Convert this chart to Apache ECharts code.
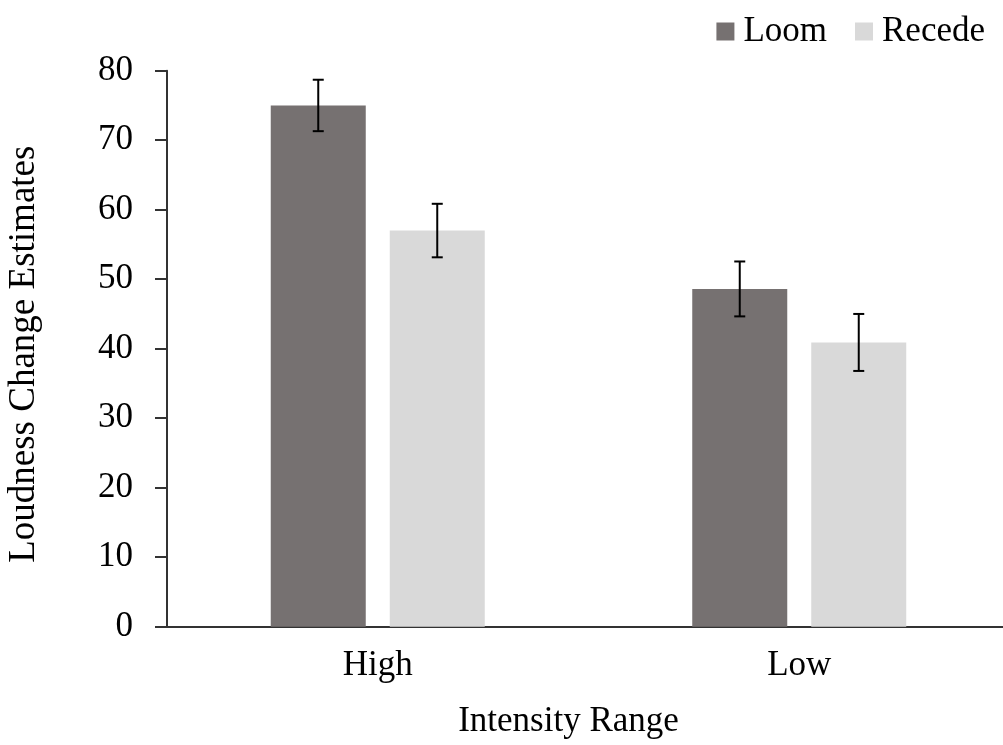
<!DOCTYPE html>
<html>
<head>
<meta charset="utf-8">
<script src="https://cdn.jsdelivr.net/npm/echarts@6/dist/echarts.min.js"></script>
<style>
  html, body { margin: 0; padding: 0; background: #fff; }
  #chart { width: 1003px; height: 745px; }
</style>
</head>
<body>
<div id="chart"></div>
<script>
// data
var categories = ['High', 'Low'];
var loomValues = [75, 48.6];
var recedeValues = [57, 40.9];
var loomErrors = [3.7, 3.95];
var recedeErrors = [3.85, 4.1];
var yTicks = [0, 10, 20, 30, 40, 50, 60, 70, 80];

var FONT = '"Liberation Serif", "Times New Roman", serif';
var BAR_W = 95;
var BAR_GAP = 24;

var chart = echarts.init(document.getElementById('chart'));

// error bar drawn at the center of its bar; side = -1 for Loom, +1 for Recede
function errorBar(side) {
    return function (params, api) {
        var idx = api.value(0);
        var val = api.value(1);
        var err = api.value(2);
        var shift = side * (BAR_W + BAR_GAP) / 2;
        var top = api.coord([idx, val + err]);
        var bot = api.coord([idx, val - err]);
        var x = top[0] + shift;
        var cap = 5.5;
        var style = { stroke: '#000', lineWidth: 2 };
        return {
            type: 'group',
            children: [
                { type: 'line', shape: { x1: x, y1: top[1], x2: x, y2: bot[1] }, style: style },
                { type: 'line', shape: { x1: x - cap, y1: top[1], x2: x + cap, y2: top[1] }, style: style },
                { type: 'line', shape: { x1: x - cap, y1: bot[1], x2: x + cap, y2: bot[1] }, style: style }
            ]
        };
    };
}

var option = {
    backgroundColor: '#fff',
    animation: false,
    textStyle: { fontFamily: FONT },
    legend: {
        right: 13,
        top: 9,
        itemWidth: 18,
        itemHeight: 18,
        itemGap: 28,
        icon: 'rect',
        textStyle: { fontFamily: FONT, fontSize: 35, color: '#000', padding: [0, 0, 0, 4] },
        data: ['Loom', 'Recede']
    },
    grid: {
        left: 167,
        width: 843,
        top: 70.7,
        bottom: 118.3,
        containLabel: false,
        outerBoundsMode: 'none'
    },
    xAxis: {
        type: 'category',
        data: categories,
        name: 'Intensity Range',
        nameLocation: 'middle',
        nameGap: 78,
        nameTextStyle: { fontFamily: FONT, fontSize: 35, color: '#000', padding: [0, 40, 0, 0] },
        axisLine: { lineStyle: { color: '#333', width: 2 } },
        axisTick: { show: false },
        axisLabel: { fontFamily: FONT, fontSize: 35, color: '#000', margin: 22 }
    },
    yAxis: {
        type: 'value',
        min: yTicks[0],
        max: yTicks[yTicks.length - 1],
        interval: yTicks[1] - yTicks[0],
        name: 'Loudness Change Estimates',
        nameLocation: 'middle',
        nameGap: 124,
        nameTextStyle: { fontFamily: FONT, fontSize: 37, color: '#000', padding: [0, 11, 0, 0] },
        axisLine: { show: true, lineStyle: { color: '#333', width: 2 } },
        axisTick: { show: true, length: 12, lineStyle: { color: '#333', width: 2 } },
        axisLabel: { fontFamily: FONT, fontSize: 35, color: '#000', margin: 34 },
        splitLine: { show: false }
    },
    series: [
        {
            name: 'Loom',
            type: 'bar',
            barWidth: BAR_W,
            barGap: (BAR_GAP / BAR_W * 100) + '%',
            itemStyle: { color: '#767171' },
            data: loomValues
        },
        {
            name: 'Recede',
            type: 'bar',
            barWidth: BAR_W,
            itemStyle: { color: '#d9d9d9' },
            data: recedeValues
        },
        {
            type: 'custom',
            renderItem: errorBar(-1),
            z: 10,
            data: loomValues.map(function (v, i) { return [i, v, loomErrors[i]]; })
        },
        {
            type: 'custom',
            renderItem: errorBar(1),
            z: 10,
            data: recedeValues.map(function (v, i) { return [i, v, recedeErrors[i]]; })
        }
    ]
};
chart.setOption(option);
</script>
</body>
</html>
